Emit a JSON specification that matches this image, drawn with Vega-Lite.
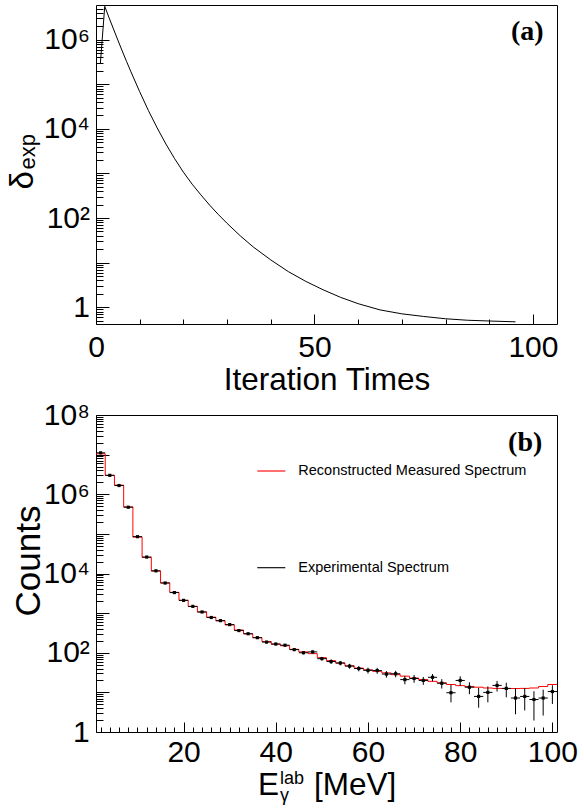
{
  "$schema": "https://vega.github.io/schema/vega-lite/v6.json",
  "padding": {"left": 5, "top": 4, "right": 0, "bottom": 0},
  "bounds": "flush",
  "spacing": 91,
  "config": {
    "view": {"stroke": "#000000", "strokeWidth": 1},
    "axis": {
      "labelFont": "Liberation Sans",
      "titleFont": "Liberation Sans",
      "labelColor": "#000000",
      "titleColor": "#000000",
      "tickColor": "#000000",
      "tickWidth": 1,
      "domain": false,
      "grid": false,
      "labelOverlap": false,
      "labelFlush": false,
      "labelFontSize": 30,
      "titleFontSize": 31.5,
      "titleFontWeight": "normal"
    },
    "legend": {
      "orient": "none", "title": null, "padding": 0,
      "symbolType": "M-1,-0.04H1V0.04H-1Z", "symbolSize": 784, "symbolStrokeWidth": 0,
      "labelFont": "Liberation Sans", "labelFontSize": 14.5, "labelColor": "#000000",
      "labelOffset": 13, "labelLimit": 400
    }
  },
  "datasets": {
    "iterations": [
      {"iteration": 1, "delta": 295000},
      {"iteration": 2, "delta": 5600000},
      {"iteration": 3, "delta": 3090000},
      {"iteration": 4, "delta": 1740000},
      {"iteration": 5, "delta": 980000},
      {"iteration": 6, "delta": 560000},
      {"iteration": 7, "delta": 324000},
      {"iteration": 8, "delta": 190000},
      {"iteration": 10, "delta": 68000},
      {"iteration": 12, "delta": 25700},
      {"iteration": 14, "delta": 10500},
      {"iteration": 16, "delta": 4570},
      {"iteration": 18, "delta": 2140},
      {"iteration": 20, "delta": 1070},
      {"iteration": 22, "delta": 575},
      {"iteration": 24, "delta": 331},
      {"iteration": 26, "delta": 195},
      {"iteration": 28, "delta": 120},
      {"iteration": 30, "delta": 76},
      {"iteration": 33, "delta": 40},
      {"iteration": 36, "delta": 22.4},
      {"iteration": 40, "delta": 11.5},
      {"iteration": 44, "delta": 6.3},
      {"iteration": 48, "delta": 3.8},
      {"iteration": 52, "delta": 2.45},
      {"iteration": 56, "delta": 1.66},
      {"iteration": 60, "delta": 1.2},
      {"iteration": 65, "delta": 0.87},
      {"iteration": 70, "delta": 0.71},
      {"iteration": 75, "delta": 0.62},
      {"iteration": 80, "delta": 0.55},
      {"iteration": 85, "delta": 0.51},
      {"iteration": 90, "delta": 0.49},
      {"iteration": 96, "delta": 0.47}
    ],
    "bins": [
      {"E": 2, "lo": 1, "hi": 3, "n": 11100000, "nlo": 11000000, "nhi": 11200000, "fit": 10500000},
      {"E": 4, "lo": 3, "hi": 5, "n": 3000000, "nlo": 2980000, "nhi": 3020000, "fit": 3000000},
      {"E": 6, "lo": 5, "hi": 7, "n": 1660000, "nlo": 1650000, "nhi": 1670000, "fit": 1700000},
      {"E": 8, "lo": 7, "hi": 9, "n": 470000, "nlo": 467000, "nhi": 473000, "fit": 480000},
      {"E": 10, "lo": 9, "hi": 11, "n": 85000, "nlo": 84000, "nhi": 86000, "fit": 83000},
      {"E": 12, "lo": 11, "hi": 13, "n": 26000, "nlo": 25700, "nhi": 26300, "fit": 25500},
      {"E": 14, "lo": 13, "hi": 15, "n": 11700, "nlo": 11500, "nhi": 11900, "fit": 11500},
      {"E": 16, "lo": 15, "hi": 17, "n": 5750, "nlo": 5650, "nhi": 5850, "fit": 5800},
      {"E": 18, "lo": 17, "hi": 19, "n": 3300, "nlo": 3230, "nhi": 3370, "fit": 3350},
      {"E": 20, "lo": 19, "hi": 21, "n": 2100, "nlo": 2050, "nhi": 2150, "fit": 2100},
      {"E": 22, "lo": 21, "hi": 23, "n": 1480, "nlo": 1440, "nhi": 1520, "fit": 1470},
      {"E": 24, "lo": 23, "hi": 25, "n": 1070, "nlo": 1035, "nhi": 1105, "fit": 1070},
      {"E": 26, "lo": 25, "hi": 27, "n": 776, "nlo": 748, "nhi": 804, "fit": 790},
      {"E": 28, "lo": 27, "hi": 29, "n": 646, "nlo": 620, "nhi": 672, "fit": 640},
      {"E": 30, "lo": 29, "hi": 31, "n": 513, "nlo": 490, "nhi": 536, "fit": 505},
      {"E": 32, "lo": 31, "hi": 33, "n": 363, "nlo": 344, "nhi": 382, "fit": 375},
      {"E": 34, "lo": 33, "hi": 35, "n": 302, "nlo": 285, "nhi": 319, "fit": 300},
      {"E": 36, "lo": 35, "hi": 37, "n": 240, "nlo": 225, "nhi": 255, "fit": 240},
      {"E": 38, "lo": 37, "hi": 39, "n": 186, "nlo": 173, "nhi": 199, "fit": 192},
      {"E": 40, "lo": 39, "hi": 41, "n": 166, "nlo": 154, "nhi": 178, "fit": 165},
      {"E": 42, "lo": 41, "hi": 43, "n": 155, "nlo": 143, "nhi": 167, "fit": 150},
      {"E": 44, "lo": 43, "hi": 45, "n": 120, "nlo": 110, "nhi": 130, "fit": 122},
      {"E": 46, "lo": 45, "hi": 47, "n": 100, "nlo": 91, "nhi": 109, "fit": 105},
      {"E": 48, "lo": 47, "hi": 49, "n": 105, "nlo": 96, "nhi": 114, "fit": 95},
      {"E": 50, "lo": 49, "hi": 51, "n": 71, "nlo": 63.5, "nhi": 78.5, "fit": 75},
      {"E": 52, "lo": 51, "hi": 53, "n": 60, "nlo": 52, "nhi": 68, "fit": 63},
      {"E": 54, "lo": 53, "hi": 55, "n": 55, "nlo": 48, "nhi": 62, "fit": 55},
      {"E": 56, "lo": 55, "hi": 57, "n": 46, "nlo": 39.5, "nhi": 52.5, "fit": 47},
      {"E": 58, "lo": 57, "hi": 59, "n": 40, "nlo": 34, "nhi": 46, "fit": 41},
      {"E": 60, "lo": 59, "hi": 61, "n": 36, "nlo": 30, "nhi": 42, "fit": 37},
      {"E": 62, "lo": 61, "hi": 63, "n": 35.5, "nlo": 29.5, "nhi": 41.5, "fit": 34},
      {"E": 64, "lo": 63, "hi": 65, "n": 29, "nlo": 23.5, "nhi": 34.5, "fit": 31},
      {"E": 66, "lo": 65, "hi": 67, "n": 29.5, "nlo": 24, "nhi": 35, "fit": 28},
      {"E": 68, "lo": 67, "hi": 69, "n": 21, "nlo": 16, "nhi": 26, "fit": 25.7},
      {"E": 70, "lo": 69, "hi": 71, "n": 22.4, "nlo": 17.5, "nhi": 27.5, "fit": 23},
      {"E": 72, "lo": 71, "hi": 73, "n": 20, "nlo": 15.5, "nhi": 24.5, "fit": 21},
      {"E": 74, "lo": 73, "hi": 75, "n": 24, "nlo": 19, "nhi": 29, "fit": 19},
      {"E": 76, "lo": 75, "hi": 77, "n": 17, "nlo": 12.5, "nhi": 21.5, "fit": 17.4},
      {"E": 78, "lo": 77, "hi": 79, "n": 9.8, "nlo": 5.6, "nhi": 15.8, "fit": 15.8},
      {"E": 80, "lo": 79, "hi": 81, "n": 20, "nlo": 14.5, "nhi": 25.5, "fit": 14.8},
      {"E": 82, "lo": 81, "hi": 83, "n": 13.5, "nlo": 9, "nhi": 18, "fit": 14.1},
      {"E": 84, "lo": 83, "hi": 85, "n": 7.9, "nlo": 4.1, "nhi": 12.9, "fit": 13.5},
      {"E": 86, "lo": 85, "hi": 87, "n": 10, "nlo": 5.6, "nhi": 14.1, "fit": 12.9},
      {"E": 88, "lo": 87, "hi": 89, "n": 15, "nlo": 10.5, "nhi": 19.5, "fit": 12.6},
      {"E": 90, "lo": 89, "hi": 91, "n": 12.6, "nlo": 7.5, "nhi": 17.5, "fit": 12.5},
      {"E": 92, "lo": 91, "hi": 93, "n": 7.2, "nlo": 2.8, "nhi": 12.9, "fit": 12.5},
      {"E": 94, "lo": 93, "hi": 95, "n": 7.9, "nlo": 3.5, "nhi": 12.9, "fit": 12.6},
      {"E": 96, "lo": 95, "hi": 97, "n": 6.6, "nlo": 1.95, "nhi": 10.7, "fit": 12.9},
      {"E": 98, "lo": 97, "hi": 99, "n": 7.2, "nlo": 2.6, "nhi": 11.7, "fit": 14.1},
      {"E": 100, "lo": 99, "hi": 101, "n": 10.5, "nlo": 5.1, "nhi": 15.1, "fit": 15.8}
    ]
  },
  "vconcat": [
    {
      "width": 461,
      "height": 319,
      "layer": [
        {
          "data": {"name": "iterations"},
          "mark": {"type": "line", "color": "#000000", "strokeWidth": 1, "clip": true},
          "encoding": {
            "x": {
              "field": "iteration", "type": "quantitative",
              "scale": {"domain": [0, 105.5], "nice": false, "zero": false},
              "axis": {
                "orient": "bottom", "values": [0, 50, 100], "format": "d",
                "tickSize": -10, "labelPadding": 18,
                "title": "Iteration Times", "titleBaseline": "alphabetic", "titleY": 65
              }
            },
            "y": {
              "field": "delta", "type": "quantitative",
              "scale": {"type": "log", "domain": [0.42, 6000000], "nice": false},
              "axis": {
                "orient": "left",
                "values": [1, 10, 100, 1000, 10000, 100000, 1000000],
                "tickSize": -13, "labelPadding": 19.5,
                "labelExpr": "datum.value == 1 ? '1' : (round(log(datum.value) / LN10) % 2 == 0 ? '10' + ['⁰','¹','²','³','⁴','⁵','⁶','⁷','⁸','⁹'][round(log(datum.value) / LN10)] : '')",
                "title": "δ", "titleFontSize": 33, "titleAngle": -90, "titleAlign": "left", "titleBaseline": "alphabetic",
                "titleX": -63.7, "titleY": 184
              }
            }
          }
        },
        {
          "data": {"values": [{"tag": "(a)", "iteration": 98.7, "delta": 1500000}]},
          "mark": {"type": "text", "font": "Liberation Serif", "fontWeight": "bold", "fontSize": 28, "align": "center", "baseline": "middle", "color": "#000000"},
          "encoding": {
            "x": {
              "field": "iteration", "type": "quantitative",
              "scale": {"domain": [0, 105.5], "nice": false, "zero": false},
              "axis": {"orient": "bottom", "values": [10, 20, 30, 40, 60, 70, 80, 90], "tickSize": -5, "labels": false, "title": null}
            },
            "y": {
              "field": "delta", "type": "quantitative",
              "scale": {"type": "log", "domain": [0.42, 6000000], "nice": false},
              "axis": {
                "orient": "left",
                "values": [0.5, 0.6, 0.7, 0.8, 0.9, 2, 3, 4, 5, 6, 7, 8, 9, 20, 30, 40, 50, 60, 70, 80, 90, 200, 300, 400, 500, 600, 700, 800, 900, 2000, 3000, 4000, 5000, 6000, 7000, 8000, 9000, 20000, 30000, 40000, 50000, 60000, 70000, 80000, 90000, 200000, 300000, 400000, 500000, 600000, 700000, 800000, 900000, 2000000, 3000000, 4000000, 5000000],
                "tickSize": -7, "labels": false,
                "title": "exp", "titleFontSize": 22, "titleAngle": -90, "titleAlign": "left", "titleBaseline": "alphabetic",
                "titleX": -61.5, "titleY": 164
              }
            },
            "text": {"field": "tag"}
          }
        }
      ],
      "resolve": {"axis": {"x": "independent", "y": "independent"}}
    },
    {
      "width": 461,
      "height": 317,
      "layer": [
        {
          "data": {"name": "bins"},
          "transform": [{"fold": ["lo", "hi"], "as": ["side", "edge"]}],
          "mark": {"type": "line", "strokeWidth": 1, "color": "#ff0000", "clip": true},
          "encoding": {
            "x": {
              "field": "edge", "type": "quantitative",
              "scale": {"domain": [1, 101], "nice": false, "zero": false},
              "axis": {
                "orient": "bottom", "values": [20, 40, 60, 80, 100], "format": "d",
                "tickSize": -10, "labelPadding": 15,
                "title": "E\u2007\u2007[MeV]", "titleAlign": "left", "titleBaseline": "alphabetic",
                "titleX": 161.5, "titleY": 62
              }
            },
            "y": {
              "field": "fit", "type": "quantitative",
              "scale": {"type": "log", "domain": [1, 100000000], "nice": false},
              "axis": {
                "orient": "left",
                "values": [1, 10, 100, 1000, 10000, 100000, 1000000, 10000000, 100000000],
                "tickSize": -13, "labelPadding": 19.7,
                "labelExpr": "datum.value == 1 ? '1' : (round(log(datum.value) / LN10) % 2 == 0 ? '10' + ['⁰','¹','²','³','⁴','⁵','⁶','⁷','⁸','⁹'][round(log(datum.value) / LN10)] : '')",
                "title": "Counts", "titleFontSize": 35, "titleAngle": -90, "titleAlign": "center", "titleBaseline": "alphabetic",
                "titleX": -56.7, "titleY": 145.5
              }
            },
            "order": [{"field": "E", "type": "quantitative"}, {"field": "side", "sort": "descending"}]
          }
        },
        {
          "data": {"name": "bins"},
          "mark": {"type": "rule", "strokeWidth": 1, "color": "#000000", "clip": true},
          "encoding": {
            "x": {
              "field": "lo", "type": "quantitative",
              "scale": {"domain": [1, 101], "nice": false, "zero": false},
              "axis": {
                "orient": "bottom",
                "values": [2, 4, 6, 8, 10, 12, 14, 16, 18, 22, 24, 26, 28, 30, 32, 34, 36, 38, 42, 44, 46, 48, 50, 52, 54, 56, 58, 62, 64, 66, 68, 70, 72, 74, 76, 78, 82, 84, 86, 88, 90, 92, 94, 96, 98],
                "tickSize": -5, "labels": false,
                "title": "lab", "titleFontSize": 18, "titleAlign": "left", "titleBaseline": "alphabetic",
                "titleX": 183.5, "titleY": 51
              }
            },
            "x2": {"field": "hi"},
            "y": {
              "field": "n", "type": "quantitative",
              "scale": {"type": "log", "domain": [1, 100000000], "nice": false},
              "axis": {
                "orient": "left",
                "values": [2, 3, 4, 5, 6, 7, 8, 9, 20, 30, 40, 50, 60, 70, 80, 90, 200, 300, 400, 500, 600, 700, 800, 900, 2000, 3000, 4000, 5000, 6000, 7000, 8000, 9000, 20000, 30000, 40000, 50000, 60000, 70000, 80000, 90000, 200000, 300000, 400000, 500000, 600000, 700000, 800000, 900000, 2000000, 3000000, 4000000, 5000000, 6000000, 7000000, 8000000, 9000000, 20000000, 30000000, 40000000, 50000000, 60000000, 70000000, 80000000, 90000000],
                "tickSize": -7, "labels": false, "title": null
              }
            }
          }
        },
        {
          "data": {"name": "bins"},
          "mark": {"type": "rule", "strokeWidth": 1, "color": "#000000", "clip": true},
          "encoding": {
            "x": {
              "field": "E", "type": "quantitative",
              "scale": {"domain": [1, 101], "nice": false, "zero": false},
              "axis": {
                "orient": "bottom", "values": [], "ticks": false, "labels": false,
                "title": "γ", "titleFontSize": 18, "titleAlign": "left", "titleBaseline": "alphabetic",
                "titleX": 183.5, "titleY": 68
              }
            },
            "y": {
              "field": "nlo", "type": "quantitative",
              "scale": {"type": "log", "domain": [1, 100000000], "nice": false},
              "axis": null
            },
            "y2": {"field": "nhi"}
          }
        },
        {
          "data": {"name": "bins"},
          "mark": {"type": "point", "shape": "square", "filled": true, "size": 10, "color": "#000000", "opacity": 1},
          "encoding": {
            "x": {"field": "E", "type": "quantitative", "scale": {"domain": [1, 101], "nice": false, "zero": false}, "axis": null},
            "y": {"field": "n", "type": "quantitative", "scale": {"type": "log", "domain": [1, 100000000], "nice": false}, "axis": null}
          }
        },
        {
          "data": {"values": [{"series": "Reconstructed Measured Spectrum"}]},
          "mark": {"type": "line", "strokeWidth": 1},
          "encoding": {
            "color": {
              "field": "series", "type": "nominal",
              "scale": {"range": ["#ff0000"]},
              "legend": {"legendX": 161.3, "legendY": 452, "symbolFillColor": "#ff0000"}
            }
          }
        },
        {
          "data": {"values": [{"series": "Experimental Spectrum"}]},
          "mark": {"type": "line", "strokeWidth": 1, "color": "#000000"},
          "encoding": {
            "strokeDash": {
              "field": "series", "type": "nominal",
              "scale": {"range": [[1, 0]]},
              "legend": {"legendX": 161.3, "legendY": 548.7, "symbolFillColor": "#000000"}
            }
          }
        },
        {
          "data": {"values": [{"tag": "(b)", "E": 94.1, "n": 19500000}]},
          "mark": {"type": "text", "font": "Liberation Serif", "fontWeight": "bold", "fontSize": 28, "align": "center", "baseline": "middle", "color": "#000000"},
          "encoding": {
            "x": {"field": "E", "type": "quantitative", "scale": {"domain": [1, 101], "nice": false, "zero": false}, "axis": null},
            "y": {"field": "n", "type": "quantitative", "scale": {"type": "log", "domain": [1, 100000000], "nice": false}, "axis": null},
            "text": {"field": "tag"}
          }
        }
      ],
      "resolve": {"axis": {"x": "independent", "y": "independent"}}
    }
  ]
}
